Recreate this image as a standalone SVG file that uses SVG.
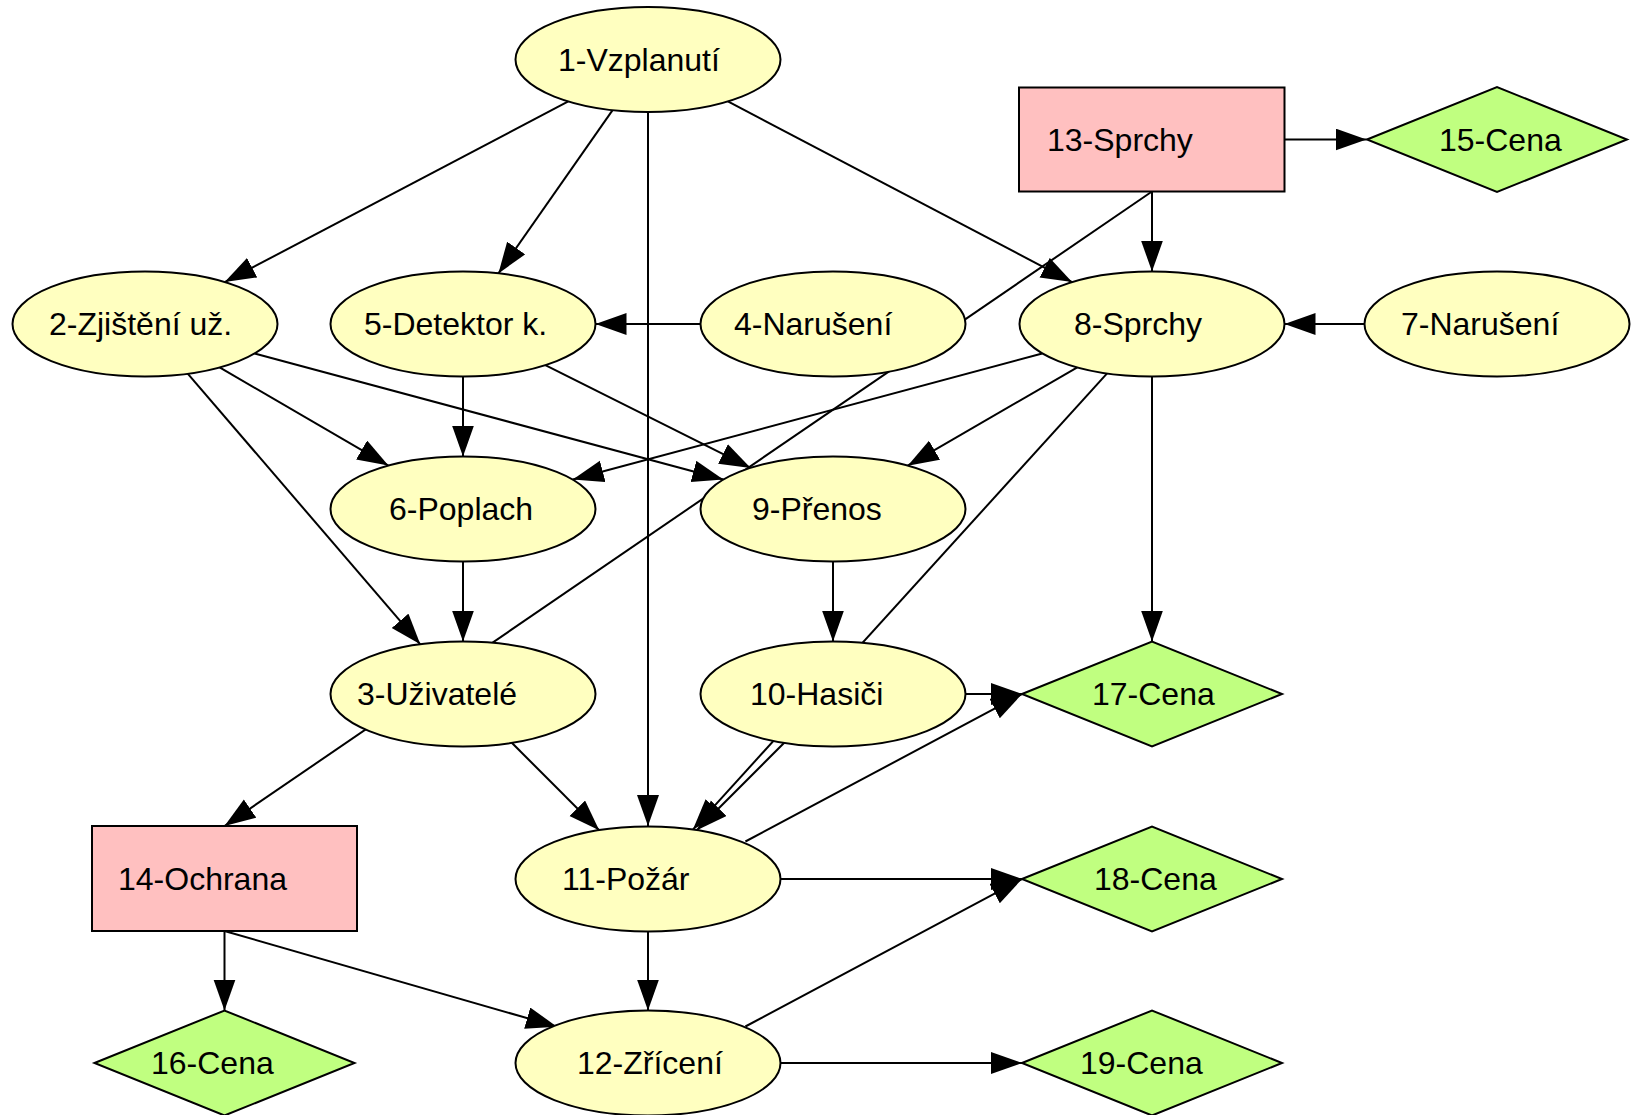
<svg xmlns="http://www.w3.org/2000/svg" width="1637" height="1115" viewBox="0 0 1637 1115">
  <style>
    .edge { stroke: #000; stroke-width: 2; fill: none; marker-end: url(#arrow); }
    .ell { fill: #ffffc0; stroke: #000; stroke-width: 2; }
    .box { fill: #ffc0c0; stroke: #000; stroke-width: 2; }
    .dia { fill: #c0ff80; stroke: #000; stroke-width: 2; }
    text { font-family: "Liberation Sans", Arial, sans-serif; font-size: 32px; fill: #000; }
  </style>
  <defs>
    <marker id="arrow" markerUnits="userSpaceOnUse" markerWidth="32" markerHeight="24" refX="31" refY="11" orient="auto">
      <path d="M0,0 L31,11 L0,22 Z" fill="#000"/>
    </marker>
  </defs>
  <rect width="1637" height="1115" fill="#fff"/>

  <!-- connectors (drawn under the nodes) -->
  <g id="edges">
    <line class="edge" x1="568.3" y1="101.4" x2="224.7" y2="282.1"/>
    <line class="edge" x1="612.6" y1="110.1" x2="498.4" y2="273.4"/>
    <line class="edge" x1="648" y1="112" x2="648" y2="826"/>
    <line class="edge" x1="727.9" y1="101.4" x2="1072.1" y2="282.1"/>
    <line class="edge" x1="1284.5" y1="139.5" x2="1366.5" y2="139.5"/>
    <line class="edge" x1="1152" y1="191.5" x2="1152" y2="271.5"/>
    <line class="edge" x1="1152" y1="191.5" x2="224.5" y2="826"/>
    <line class="edge" x1="700.5" y1="324" x2="595.5" y2="324"/>
    <line class="edge" x1="1364.5" y1="324" x2="1284.5" y2="324"/>
    <line class="edge" x1="219.6" y1="367.4" x2="388.4" y2="465.6"/>
    <line class="edge" x1="254.6" y1="353.5" x2="723.4" y2="479.5"/>
    <line class="edge" x1="187.7" y1="373.7" x2="420.3" y2="644.3"/>
    <line class="edge" x1="463" y1="376.5" x2="463" y2="456.5"/>
    <line class="edge" x1="545.3" y1="365.1" x2="750.7" y2="467.9"/>
    <line class="edge" x1="1042.2" y1="353.5" x2="572.8" y2="479.5"/>
    <line class="edge" x1="1077.3" y1="367.3" x2="907.7" y2="465.7"/>
    <line class="edge" x1="1107.1" y1="373.4" x2="692.9" y2="829.6"/>
    <line class="edge" x1="1152" y1="376.5" x2="1152" y2="641.5"/>
    <line class="edge" x1="463" y1="561.5" x2="463" y2="641.5"/>
    <line class="edge" x1="833" y1="561.5" x2="833" y2="641.5"/>
    <line class="edge" x1="511.8" y1="742.8" x2="599.2" y2="830.2"/>
    <line class="edge" x1="784.2" y1="742.8" x2="696.8" y2="830.2"/>
    <line class="edge" x1="965.5" y1="694" x2="1022" y2="694"/>
    <line class="edge" x1="745.4" y1="841.5" x2="1022" y2="694"/>
    <line class="edge" x1="780.5" y1="879" x2="1022" y2="879"/>
    <line class="edge" x1="648" y1="931.5" x2="648" y2="1010.5"/>
    <line class="edge" x1="224.5" y1="931" x2="224.5" y2="1010.5"/>
    <line class="edge" x1="224.5" y1="931" x2="557" y2="1026.7"/>
    <line class="edge" x1="745.4" y1="1026.5" x2="1022" y2="879"/>
    <line class="edge" x1="780.5" y1="1063" x2="1022" y2="1063"/>
  </g>

  <!-- nodes -->
  <g id="n1"><ellipse class="ell" cx="648" cy="59.5" rx="132.5" ry="52.5"/><text x="558" y="70.5">1-Vzplanutí</text></g>
  <g id="n2"><ellipse class="ell" cx="145" cy="324" rx="132.5" ry="52.5"/><text x="49" y="335">2-Zjištění už.</text></g>
  <g id="n3"><ellipse class="ell" cx="463" cy="694" rx="132.5" ry="52.5"/><text x="357" y="705">3-Uživatelé</text></g>
  <g id="n4"><ellipse class="ell" cx="833" cy="324" rx="132.5" ry="52.5"/><text x="734" y="335">4-Narušení</text></g>
  <g id="n5"><ellipse class="ell" cx="463" cy="324" rx="132.5" ry="52.5"/><text x="364" y="335">5-Detektor k.</text></g>
  <g id="n6"><ellipse class="ell" cx="463" cy="509" rx="132.5" ry="52.5"/><text x="389" y="520">6-Poplach</text></g>
  <g id="n7"><ellipse class="ell" cx="1497" cy="324" rx="132.5" ry="52.5"/><text x="1401" y="335">7-Narušení</text></g>
  <g id="n8"><ellipse class="ell" cx="1152" cy="324" rx="132.5" ry="52.5"/><text x="1074" y="335">8-Sprchy</text></g>
  <g id="n9"><ellipse class="ell" cx="833" cy="509" rx="132.5" ry="52.5"/><text x="752" y="520">9-Přenos</text></g>
  <g id="n10"><ellipse class="ell" cx="833" cy="694" rx="132.5" ry="52.5"/><text x="750" y="705">10-Hasiči</text></g>
  <g id="n11"><ellipse class="ell" cx="648" cy="879" rx="132.5" ry="52.5"/><text x="562" y="890">11-Požár</text></g>
  <g id="n12"><ellipse class="ell" cx="648" cy="1063" rx="132.5" ry="52.5"/><text x="577" y="1074">12-Zřícení</text></g>
  <g id="n13"><rect class="box" x="1019" y="87.5" width="265.5" height="104"/><text x="1047" y="150.5">13-Sprchy</text></g>
  <g id="n14"><rect class="box" x="92" y="826" width="265" height="105"/><text x="118" y="890">14-Ochrana</text></g>
  <g id="n15"><polygon class="dia" points="1367,139.5 1497,87 1627,139.5 1497,192"/><text x="1439" y="150.5">15-Cena</text></g>
  <g id="n16"><polygon class="dia" points="94.5,1063 224.5,1010.5 354.5,1063 224.5,1115.5"/><text x="151" y="1074">16-Cena</text></g>
  <g id="n17"><polygon class="dia" points="1022,694 1152,641.5 1282,694 1152,746.5"/><text x="1092" y="705">17-Cena</text></g>
  <g id="n18"><polygon class="dia" points="1022,879 1152,826.5 1282,879 1152,931.5"/><text x="1094" y="890">18-Cena</text></g>
  <g id="n19"><polygon class="dia" points="1022,1063 1152,1010.5 1282,1063 1152,1115.5"/><text x="1080" y="1074">19-Cena</text></g>
</svg>
